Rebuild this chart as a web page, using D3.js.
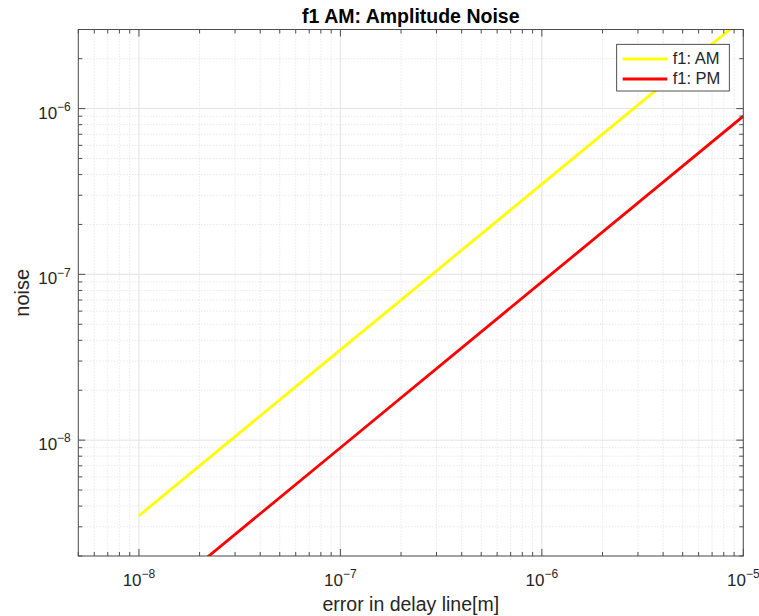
<!DOCTYPE html>
<html><head><meta charset="utf-8">
<script src="https://cdn.jsdelivr.net/npm/d3@7"></script>
<style>body{margin:0;background:#fff;} text{font-family:"Liberation Sans",Arial,Helvetica,sans-serif;fill:#262626;}</style>
</head><body>
<svg id="chart" width="759" height="616"></svg>
<script>
const title = "f1 AM: Amplitude Noise";
const xLabel = "error in delay line[m]";
const yLabel = "noise";
const seriesNames = ["f1: AM", "f1: PM"];
const seriesColors = ["#ffff00", "#ff0000"];
const errorValues = [1e-8, 1e-7, 1e-6, 1e-5];
const amNoise = [3.5e-9, 3.5e-8, 3.5e-7, 3.5e-6];
const pmNoise = [9e-10, 9e-9, 9e-8, 9e-7];
const xTickExps = [-8, -7, -6, -5];
const yTickExps = [-8, -7, -6];
const xDomain = [5e-9, 1e-5];
const yDomain = [2e-9, 3e-6];

const svg = d3.select("#chart");
const m = {l: 78.3, t: 29.5, r: 743.3, b: 556};
const x = d3.scaleLog().domain(xDomain).range([m.l, m.r]);
const y = d3.scaleLog().domain(yDomain).range([m.b, m.t]);

function logTicks(dom) {
  const out = [];
  for (let e = Math.floor(Math.log10(dom[0])); e <= Math.ceil(Math.log10(dom[1])); e++) {
    for (let k = 1; k <= 9; k++) {
      const v = k * Math.pow(10, e);
      if (v >= dom[0] * 0.9999 && v <= dom[1] * 1.0001) out.push({v, major: k === 1});
    }
  }
  return out;
}
const xt = logTicks(xDomain), yt = logTicks(yDomain);

const g = svg.append("g");
xt.forEach(d => {
  g.append("line").attr("x1", x(d.v)).attr("x2", x(d.v)).attr("y1", m.t).attr("y2", m.b)
    .attr("stroke", d.major ? "#e3e3e3" : "#d6d6d6").attr("stroke-width", d.major ? 1 : 0.8)
    .attr("stroke-dasharray", d.major ? null : "1,2");
});
yt.forEach(d => {
  g.append("line").attr("y1", y(d.v)).attr("y2", y(d.v)).attr("x1", m.l).attr("x2", m.r)
    .attr("stroke", d.major ? "#e3e3e3" : "#d6d6d6").attr("stroke-width", d.major ? 1 : 0.8)
    .attr("stroke-dasharray", d.major ? null : "1,2");
});

svg.append("clipPath").attr("id", "clip").append("rect")
  .attr("x", m.l).attr("y", m.t).attr("width", m.r - m.l).attr("height", m.b - m.t);
const line = d3.line().x(d => x(d[0])).y(d => y(d[1]));
[amNoise, pmNoise].forEach((s, i) => {
  svg.append("path").attr("clip-path", "url(#clip)")
    .datum(errorValues.map((e, j) => [e, s[j]]))
    .attr("d", line).attr("fill", "none").attr("stroke", seriesColors[i]).attr("stroke-width", 2.8);
});

const ax = svg.append("g").attr("stroke", "#4d4d4d").attr("stroke-width", 1);
ax.append("rect").attr("x", m.l).attr("y", m.t).attr("width", m.r - m.l).attr("height", m.b - m.t).attr("fill", "none");
xt.forEach(d => {
  const L = d.major ? 7 : 4, px = x(d.v);
  ax.append("line").attr("x1", px).attr("x2", px).attr("y1", m.b).attr("y2", m.b - L);
  ax.append("line").attr("x1", px).attr("x2", px).attr("y1", m.t).attr("y2", m.t + L);
});
yt.forEach(d => {
  const L = d.major ? 7 : 4, py = y(d.v);
  ax.append("line").attr("y1", py).attr("y2", py).attr("x1", m.l).attr("x2", m.l + L);
  ax.append("line").attr("y1", py).attr("y2", py).attr("x1", m.r).attr("x2", m.r - L);
});

const expText = e => String(e).replace("-", "\u2212");
xTickExps.forEach(e => {
  const t = svg.append("text").attr("x", x(Math.pow(10, e))).attr("y", 586)
    .attr("text-anchor", "middle").attr("font-size", 17);
  t.append("tspan").text("10");
  t.append("tspan").attr("dy", -7.8).attr("font-size", 12).text(expText(e));
});
yTickExps.forEach(e => {
  const t = svg.append("text").attr("x", 70.8).attr("y", y(Math.pow(10, e)) + 10)
    .attr("text-anchor", "end").attr("font-size", 17);
  t.append("tspan").text("10");
  t.append("tspan").attr("dy", -7.8).attr("font-size", 12).text(expText(e));
});

svg.append("text").attr("x", (m.l + m.r) / 2).attr("y", 23).attr("text-anchor", "middle")
  .attr("font-size", 19.5).attr("font-weight", "bold").style("fill", "#000").text(title);
svg.append("text").attr("x", (m.l + m.r) / 2).attr("y", 611).attr("text-anchor", "middle")
  .attr("font-size", 19.5).text(xLabel);
svg.append("text").attr("transform", `translate(28.5,${(m.t + m.b) / 2}) rotate(-90)`)
  .attr("text-anchor", "middle").attr("font-size", 20).text(yLabel);

const lg = svg.append("g");
lg.append("rect").attr("x", 616.7).attr("y", 44.3).attr("width", 112.6).attr("height", 46.7)
  .attr("fill", "#fff").attr("stroke", "#262626").attr("stroke-width", 0.8);
seriesNames.forEach((n, i) => {
  const yy = 59 + i * 20;
  lg.append("line").attr("x1", 622.7).attr("x2", 667.3).attr("y1", yy).attr("y2", yy)
    .attr("stroke", seriesColors[i]).attr("stroke-width", 2.8);
  lg.append("text").attr("x", 672.7).attr("y", yy + 5.3).attr("font-size", 16.5).text(n);
});
</script>
</body></html>
